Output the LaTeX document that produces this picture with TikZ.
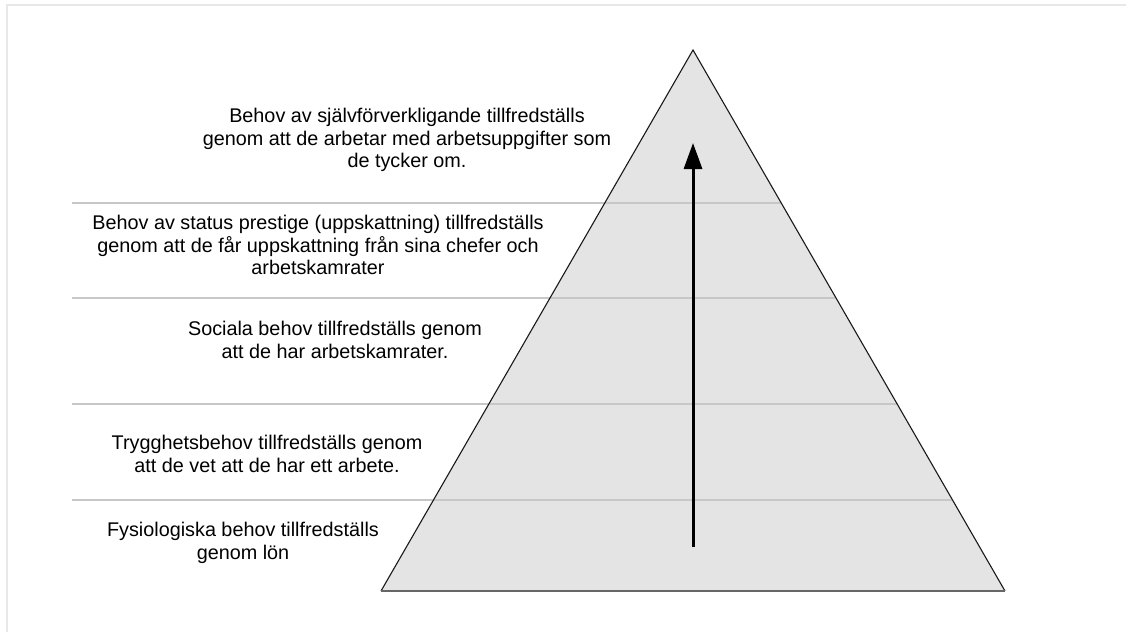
\documentclass[tikz,border=0pt]{standalone}
\usepackage{fontspec}
\setmainfont{Liberation Sans}
\usetikzlibrary{arrows.meta}
\begin{document}
\begin{tikzpicture}[x=1pt,y=-1pt,
  frameline/.style={draw=black!9,line width=1.5pt},
  levelline/.style={draw=black!22,line width=1.2pt},
  pyramid/.style={fill=black!10.5},
  pyredge/.style={draw=black!90,line width=1.1pt,line join=miter},
  pyrbase/.style={draw=black!60,line width=2pt},
  needtext/.style={align=center,inner sep=0pt,font=\fontsize{19.8}{22.5}\selectfont},
  growth/.style={line width=3pt,-{Triangle[length=26pt,width=18pt]}}]
\useasboundingbox (0,0) rectangle (1126,632);
% page frame
\draw[frameline] (7,632) -- (7,5) -- (1126,5);
% pyramid corners
\coordinate (apex) at (693,50);
\coordinate (bl) at (381,591);
\coordinate (br) at (1005,591);
\fill[pyramid] (apex) -- (br) -- (bl) -- cycle;
% level separators, each ending on the right side of the pyramid
\foreach \yy in {203,298,404,500}{
  \draw[levelline] (72,\yy) -- ({693+(\yy-50)*0.5767},\yy);
}
\draw[pyredge] (bl) -- (apex) -- (br);
\draw[pyrbase] (bl) -- (br);
% upward arrow
\coordinate (arrowfoot) at (693,547);
\coordinate (arrowtip) at (693,143);
\draw[growth] (arrowfoot) -- (arrowtip);
% level descriptions
\node[needtext] (lvl5) at (407,140) {Behov av självförverkligande tillfredställs\\genom att de arbetar med arbetsuppgifter som\\de tycker om.};
\node[needtext] (lvl4) at (318,245) {Behov av status prestige (uppskattning) tillfredställs\\genom att de får uppskattning från sina chefer och\\arbetskamrater};
\node[needtext] (lvl3) at (335,340) {Sociala behov tillfredställs genom\\att de har arbetskamrater.};
\node[needtext] (lvl2) at (267,454) {Trygghetsbehov tillfredställs genom\\att de vet att de har ett arbete.};
\node[needtext] (lvl1) at (243,543) {Fysiologiska behov tillfredställs\\genom lön};
\end{tikzpicture}
\end{document}
